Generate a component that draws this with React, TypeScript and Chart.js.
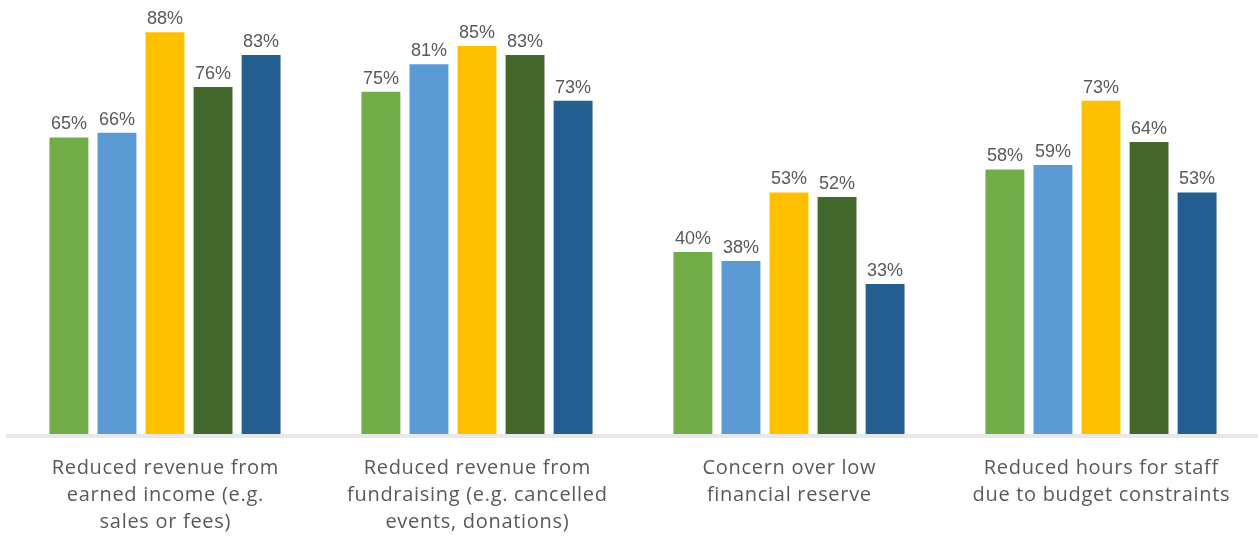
import React, { useEffect, useRef } from "react";
import { Chart, registerables } from "chart.js";

Chart.register(...registerables);

const categories: string[][] = [
  ["Reduced revenue from", "earned income (e.g.", "sales or fees)"],
  ["Reduced revenue from", "fundraising (e.g. cancelled", "events, donations)"],
  ["Concern over low", "financial reserve"],
  ["Reduced hours for staff", "due to budget constraints"],
];

const series1 = [65, 75, 40, 58];
const series2 = [66, 81, 38, 59];
const series3 = [88, 85, 53, 73];
const series4 = [76, 83, 52, 64];
const series5 = [83, 73, 33, 53];

const colors = ["#70AD47", "#5B9BD5", "#FFC000", "#43682B", "#255E91"];

const valueLabels = {
  id: "valueLabels",
  afterDatasetsDraw(chart: any) {
    const ctx = chart.ctx;
    ctx.save();
    ctx.font = "18px 'Liberation Sans', Arial, sans-serif";
    ctx.fillStyle = "#595959";
    ctx.textAlign = "center";
    ctx.textBaseline = "bottom";
    chart.data.datasets.forEach((ds: any, i: number) => {
      const meta = chart.getDatasetMeta(i);
      meta.data.forEach((bar: any, j: number) => {
        ctx.fillText(ds.data[j] + "%", bar.x, bar.y - 4);
      });
    });
    ctx.restore();
  },
};

const axisLine = {
  id: "axisLine",
  afterDatasetsDraw(chart: any) {
    const ctx = chart.ctx;
    const y = chart.chartArea.bottom + 1;
    ctx.save();
    ctx.strokeStyle = "#E8E8EA";
    ctx.lineWidth = 4;
    ctx.beginPath();
    ctx.moveTo(6, y);
    ctx.lineTo(chart.width, y);
    ctx.stroke();
    ctx.restore();
  },
};

const categoryLabels = {
  id: "categoryLabels",
  afterDraw(chart: any) {
    const ctx = chart.ctx;
    const xScale = chart.scales.x;
    ctx.save();
    ctx.font = "20px 'Open Sans', sans-serif";
    (ctx as any).letterSpacing = "0.7px";
    ctx.fillStyle = "#595959";
    ctx.textAlign = "center";
    ctx.textBaseline = "middle";
    const top = chart.chartArea.bottom;
    categories.forEach((lines, i) => {
      const x = xScale.getPixelForTick(i);
      lines.forEach((line, k) => {
        ctx.fillText(line, x + 0.35, top + 33 + k * 27.3);
      });
    });
    ctx.restore();
  },
};

export default function App() {
  const ref = useRef<HTMLCanvasElement>(null);
  useEffect(() => {
    if (!ref.current) return;
    const all = [series1, series2, series3, series4, series5];
    const chart = new Chart(ref.current, {
      type: "bar",
      data: {
        labels: categories,
        datasets: all.map((d, i) => ({
          label: "Series " + (i + 1),
          data: d,
          backgroundColor: colors[i],
          borderWidth: 0,
          barPercentage: 0.81,
          categoryPercentage: 0.77,
        })),
      },
      options: {
        animation: false,
        responsive: true,
        maintainAspectRatio: false,
        layout: { padding: { top: 23, left: 9, right: 1, bottom: 0 } },
        plugins: {
          legend: { display: false },
          tooltip: { enabled: false },
        },
        scales: {
          x: {
            grid: { display: false, drawTicks: false },
            border: { display: false },
            ticks: { display: false },
            afterFit(scale: any) {
              scale.height = 101;
            },
          },
          y: {
            display: false,
            min: 0,
            max: 90,
          },
        },
      },
      plugins: [axisLine, valueLabels, categoryLabels],
    });
    return () => chart.destroy();
  }, []);
  return (
    <div style={{ position: "fixed", left: 0, top: 0, width: 1258, height: 536, background: "#fff" }}>
      <canvas ref={ref} />
    </div>
  );
}
